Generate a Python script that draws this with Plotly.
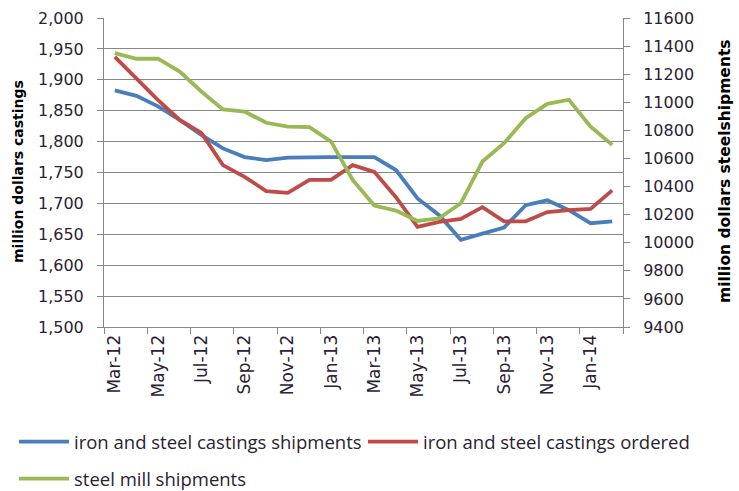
import plotly.graph_objects as go

months = ["Mar-12", "Apr-12", "May-12", "Jun-12", "Jul-12", "Aug-12", "Sep-12", "Oct-12",
          "Nov-12", "Dec-12", "Jan-13", "Feb-13", "Mar-13", "Apr-13", "May-13", "Jun-13",
          "Jul-13", "Aug-13", "Sep-13", "Oct-13", "Nov-13", "Dec-13", "Jan-14", "Feb-14"]

castings_shipments = [1883, 1874, 1857, 1835, 1811, 1789, 1775, 1770,
                      1774, 1775, 1775, 1775, 1775, 1754, 1708, 1681,
                      1641, 1651, 1661, 1697, 1705, 1689, 1668, 1671]

castings_ordered = [1937, 1902, 1867, 1835, 1814, 1762, 1743, 1720,
                    1717, 1738, 1738, 1762, 1751, 1710, 1662, 1670,
                    1675, 1694, 1671, 1671, 1686, 1689, 1691, 1721]

steel_mill_shipments = [11350, 11310, 11310, 11219, 11077, 10949, 10934, 10854,
                        10827, 10823, 10720, 10447, 10265, 10229, 10155, 10174,
                        10281, 10578, 10709, 10887, 10989, 11018, 10827, 10697]

left_ticks = list(range(1500, 2001, 50))
right_ticks = list(range(9400, 11601, 200))

BLUE = "#4A7EBB"
RED = "#BE4B48"
GREEN = "#98B954"
GRID = "#878787"
TXT = "#2b2233"

idx = list(range(len(months)))

fig = go.Figure()
fig.add_trace(go.Scatter(x=idx, y=castings_shipments, mode="lines",
                         name="iron and steel castings shipments",
                         line=dict(color=BLUE, width=3.8), legend="legend"))
fig.add_trace(go.Scatter(x=idx, y=castings_ordered, mode="lines",
                         name="iron and steel castings ordered",
                         line=dict(color=RED, width=3.8), legend="legend2"))
fig.add_trace(go.Scatter(x=idx, y=steel_mill_shipments, mode="lines",
                         name="steel mill shipments", yaxis="y2",
                         line=dict(color=GREEN, width=3.8), legend="legend3"))

tick_font = dict(family="DejaVu Sans", size=16, color=TXT)
xtick_font = dict(family="DejaVu Sans", size=17, color=TXT)
legend_font = dict(family="Open Sans", size=18.5, color=TXT)


def leg(x_px, y_px):
    return dict(orientation="h", xref="container", yref="container",
                x=x_px / 739, y=1 - y_px / 491, xanchor="left", yanchor="middle",
                font=legend_font, itemwidth=50, bgcolor="rgba(0,0,0,0)")


fig.update_layout(
    width=739, height=491,
    margin=dict(l=104, r=116, t=18, b=164, autoexpand=False),
    plot_bgcolor="white", paper_bgcolor="white",
    xaxis=dict(
        range=[-0.5, len(months) - 0.5], automargin=False,
        tickmode="array", tickvals=idx[::2], ticktext=months[::2],
        tickangle=-90, ticks="", showgrid=False, zeroline=False,
        showline=True, linecolor=GRID, linewidth=1,
        tickfont=xtick_font,
        minor=dict(tickmode="array",
                   tickvals=[i - 0.5 for i in range(0, len(months) + 1, 2)],
                   ticks="outside", ticklen=6, tickcolor=GRID, showgrid=False),
    ),
    yaxis=dict(
        range=[1500, 2000], tickmode="array", tickvals=left_ticks, automargin=False,
        tickformat=",", showgrid=True, gridcolor=GRID, gridwidth=1,
        zeroline=False, showline=True, linecolor=GRID, linewidth=1,
        ticks="outside", ticklen=6, tickcolor=GRID,
        ticklabelstandoff=10, tickfont=tick_font,
    ),
    yaxis2=dict(
        range=[9400, 11600], tickmode="array", tickvals=right_ticks, automargin=False,
        tickformat="d", overlaying="y", side="right", showgrid=False,
        zeroline=False, showline=True, linecolor=GRID, linewidth=1,
        ticks="outside", ticklen=6, tickcolor=GRID,
        ticklabelstandoff=10, tickfont=tick_font,
    ),
    legend=leg(14, 442),
    legend2=leg(363, 442),
    legend3=leg(14, 479),
    showlegend=True,
    annotations=[
        dict(text="<b>million dollars castings</b>", textangle=-90,
             xref="paper", yref="paper", x=(18 - 104) / 519, y=(327 - 172) / 309,
             xanchor="center", yanchor="middle", showarrow=False,
             font=dict(family="DejaVu Sans", size=14, color="black")),
        dict(text="<b>million dollars steelshipments</b>", textangle=-90,
             xref="paper", yref="paper", x=(725 - 104) / 519, y=(327 - 171) / 309,
             xanchor="center", yanchor="middle", showarrow=False,
             font=dict(family="DejaVu Sans", size=15.5, color="black")),
    ],
)

fig.write_html("out.html", config={"displayModeBar": False},
               post_script="document.body.style.margin='0';document.body.style.padding='0';")
